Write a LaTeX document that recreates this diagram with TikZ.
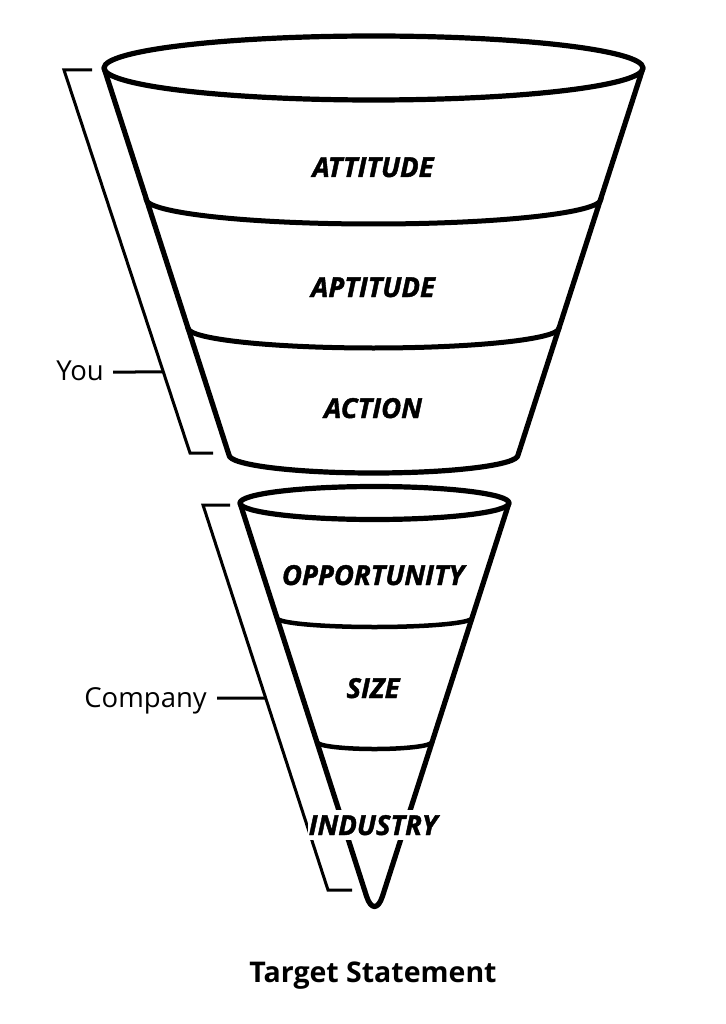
\documentclass[tikz,border=0pt]{standalone}
\usepackage{fontspec}
\setmainfont{Open Sans}
\newfontfamily\heavyfont{Open Sans}[BoldItalicFeatures={FakeBold=1.5}]
\usetikzlibrary{calc}
\begin{document}
\begin{tikzpicture}[x=1pt,y=1pt,
  funnel/.style={line width=5.2pt, line join=round, line cap=round},
  band/.style={line width=5pt, line cap=round},
  thinband/.style={line width=4.5pt, line cap=round},
  bracket/.style={line width=3pt, line join=miter},
  lbl/.style={font=\heavyfont\fontsize{27.5}{30}\selectfont\bfseries\itshape, inner sep=0pt, anchor=base},
  sidelbl/.style={font=\fontsize{27.5}{30}\selectfont, inner sep=0pt, anchor=base east}]
\useasboundingbox (0,0) rectangle (725,-1024);
% ---------- upper funnel ----------
\coordinate (uL) at (104,-68);
\coordinate (uR) at (643,-68);
\coordinate (ubL) at (229,-455);
\draw[funnel] (373.5,-68) ellipse [x radius=269.5, y radius=32];
\draw[funnel] (uL) -- (ubL) arc[start angle=180, end angle=360, x radius=144.5, y radius=18] -- (uR);
\draw[band] (146,-199) arc[start angle=180, end angle=360, x radius=227.5, y radius=25];
\draw[band] (188,-328) arc[start angle=180, end angle=360, x radius=185.5, y radius=20];
% ---------- lower funnel ----------
\coordinate (lL) at (240,-503);
\coordinate (lR) at (509,-503);
\coordinate (apex) at (374.5,-921);
\draw[funnel] (374.5,-503) ellipse [x radius=134.5, y radius=16.5];
\draw[funnel, rounded corners=26pt] (lL) -- (apex) -- (lR);
\draw[thinband] (277,-618) arc[start angle=180, end angle=360, x radius=97.5, y radius=9];
\draw[thinband] (317,-742) arc[start angle=180, end angle=360, x radius=57.5, y radius=7];
% ---------- brackets ----------
\coordinate (yt1) at (92,-70);
\coordinate (yt2) at (64,-70);
\coordinate (yb1) at (190,-453);
\coordinate (yb2) at (213,-453);
\draw[bracket] (yt1) -- (yt2) -- (yb1) -- (yb2);
\coordinate (ytick) at ($(yt2)!0.7885!(yb1)$);
\coordinate (youend) at (113,-372);
\node[sidelbl] (you) at (104,-380) {You};
\draw[bracket] (youend) -- (ytick);

\coordinate (ct1) at (230,-505);
\coordinate (ct2) at (203,-505);
\coordinate (cb1) at (328,-890);
\coordinate (cb2) at (352,-890);
\draw[bracket] (ct1) -- (ct2) -- (cb1) -- (cb2);
\coordinate (ctick) at ($(ct2)!0.5013!(cb1)$);
\coordinate (compend) at (217,-698);
\node[sidelbl] (company) at (207,-707) {Company};
\draw[bracket] (compend) -- (ctick);
% ---------- labels ----------
\node[lbl] (attitude) at (373,-177) {ATTITUDE};
\node[lbl] (aptitude) at (373,-297) {APTITUDE};
\node[lbl] (action) at (373,-418) {ACTION};
\node[lbl] (opportunity) at (373,-585) {OPPORTUNITY};
\node[lbl] (size) at (373,-698) {SIZE};
\node[lbl, fill=white, inner xsep=1pt, inner ysep=5pt] (industry) at (373,-835) {INDUSTRY};
\node[font=\fontsize{28.5}{32}\selectfont\bfseries, inner sep=0pt, anchor=base] (target) at (373,-982) {Target Statement};
\end{tikzpicture}
\end{document}
